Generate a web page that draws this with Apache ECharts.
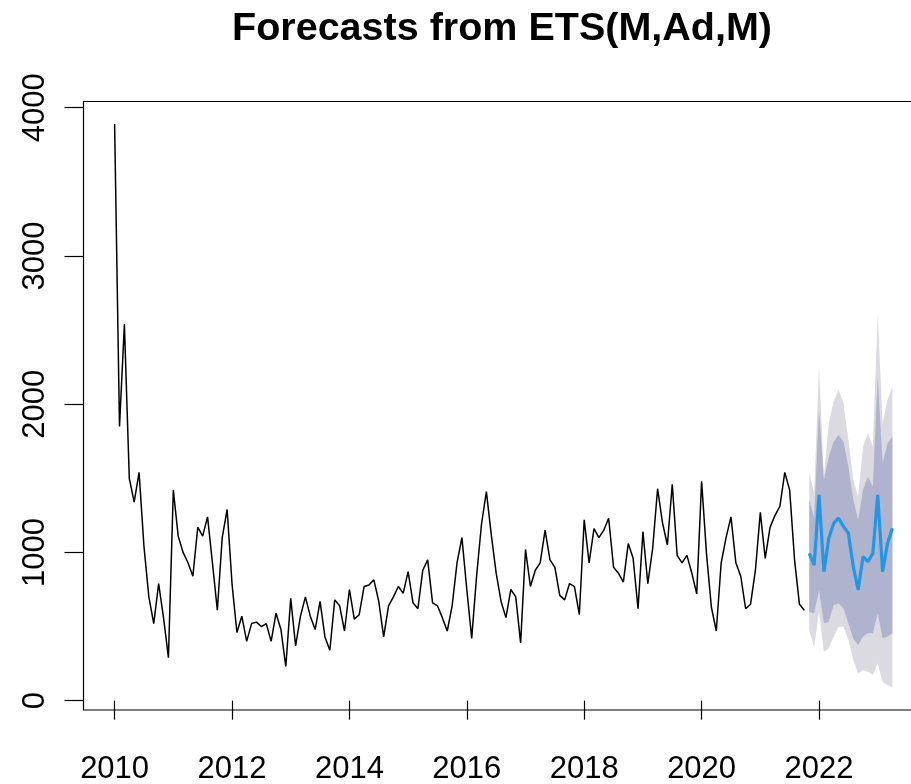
<!DOCTYPE html>
<html>
<head>
<meta charset="utf-8">
<script src="https://cdn.jsdelivr.net/npm/echarts@6/dist/echarts.min.js"></script>
<style>
  html, body { margin: 0; padding: 0; background: #ffffff; }
  #chart { width: 911px; height: 784px; }
</style>
</head>
<body>
<div id="chart"></div>
<script>
// Monthly observations, Jan 2010 .. Oct 2021
const seriesStart = 2010;
const observed = [
  3890, 1850, 2540, 1500, 1340, 1540, 1040, 700, 520, 790, 560, 290,
  1420, 1110, 1000, 930, 840, 1170, 1110, 1240, 930, 610, 1100, 1290,
  790, 460, 570, 400, 520, 530, 500, 520, 400, 590, 480, 230,
  690, 370, 570, 700, 570, 480, 670, 430, 340, 680, 640, 470,
  750, 550, 580, 770, 780, 815, 670, 430, 640, 700, 770, 725,
  870, 660, 620, 880, 950, 660, 640, 560, 470, 640, 930, 1100,
  750, 420, 840, 1190, 1410, 1120, 860, 670, 560, 750, 700, 390,
  1020, 770, 880, 930, 1150, 950, 900, 710, 680, 790, 770, 580,
  1220, 930, 1160, 1100, 1150, 1230, 900, 860, 800, 1060, 960, 620,
  1140, 790, 1030, 1430, 1200, 1050, 1460, 980, 930, 980, 860, 720,
  1480, 990, 630, 470, 930, 1100, 1240, 930, 840, 620, 650, 880,
  1270, 960, 1170, 1250, 1310, 1540, 1420, 950, 650, 610
];

// 18-month forecast, Nov 2021 .. Apr 2023
const forecastStart = 2021 + 10 / 12;
const pointForecast = [994, 915, 1388, 870, 1095, 1197, 1231, 1175, 1130, 904, 747, 972, 938, 994, 1388, 870, 1061, 1163];
const lower80 = [600, 589, 747, 522, 533, 645, 656, 623, 522, 420, 375, 432, 454, 454, 589, 420, 432, 454];
const upper80 = [1355, 1231, 1962, 1489, 1647, 1748, 1793, 1748, 1579, 1355, 1220, 1422, 1512, 1444, 2187, 1602, 1737, 1782];
const lower95 = [477, 364, 600, 330, 353, 432, 499, 499, 409, 274, 184, 207, 195, 173, 252, 128, 105, 89];
const upper95 = [1534, 1400, 2254, 1512, 1872, 2018, 2097, 2007, 1759, 1489, 1377, 1714, 1804, 1714, 2603, 1872, 2029, 2119];

const yearTicks = [2010, 2012, 2014, 2016, 2018, 2020, 2022];
const valueTicks = [0, 1000, 2000, 3000, 4000];

const obsData = observed.map((v, i) => [seriesStart + i / 12, v]);
const fcTime = pointForecast.map((_, j) => forecastStart + j / 12);
const pair = (arr) => arr.map((v, j) => [fcTime[j], v]);

// Prediction interval drawn as one filled polygon: upper edge forward, lower edge back.
function bandSeries(lo, hi, color) {
  return {
    type: 'custom',
    silent: true,
    data: [[fcTime[0], lo[0]]],
    encode: { x: 0, y: 1 },
    renderItem: function (params, api) {
      const pts = [];
      for (let j = 0; j < hi.length; j++) pts.push(api.coord([fcTime[j], hi[j]]));
      for (let j = lo.length - 1; j >= 0; j--) pts.push(api.coord([fcTime[j], lo[j]]));
      return { type: 'polygon', shape: { points: pts }, style: { fill: color, stroke: null } };
    }
  };
}

const axisFont = { fontFamily: 'Liberation Sans, Arial, sans-serif', fontSize: 31, color: '#000', formatter: (v) => String(v) };

const chart = echarts.init(document.getElementById('chart'), null, { renderer: 'canvas' });
chart.setOption({
  animation: false,
  backgroundColor: '#ffffff',
  title: {
    text: 'Forecasts from ETS(M,Ad,M)',
    left: 502,
    top: 9,
    padding: 0,
    textAlign: 'center',
    textStyle: { fontFamily: 'Liberation Sans, Arial, sans-serif', fontWeight: 'bold', fontSize: 39.5, color: '#000' }
  },
  grid: {
    left: 83.5, top: 101.5, width: 840, height: 608.5,
    show: true, borderColor: '#000', borderWidth: 1.2, backgroundColor: 'transparent',
    containLabel: false, outerBoundsMode: 'none'
  },
  xAxis: {
    type: 'value', min: 2009.47, max: 2023.78,
    axisLine: { show: false },
    splitLine: { show: false },
    axisTick: { show: true, customValues: yearTicks, length: 19, lineStyle: { color: '#000', width: 1.2 } },
    axisLabel: Object.assign({ customValues: yearTicks, margin: 44 }, axisFont)
  },
  yAxis: {
    type: 'value', min: -63, max: 4042,
    axisLine: { show: false },
    splitLine: { show: false },
    axisTick: { show: true, customValues: valueTicks, length: 19, lineStyle: { color: '#000', width: 1.2 } },
    axisLabel: Object.assign({ customValues: valueTicks, rotate: 90, margin: 33 }, axisFont)
  },
  series: [
    bandSeries(lower95, upper95, '#DADAE0'),
    bandSeries(lower80, upper80, '#AFB3CD'),
    { type: 'line', data: obsData, symbol: 'none', lineStyle: { color: '#000', width: 1.5 } },
    { type: 'line', data: pair(pointForecast), symbol: 'none', lineStyle: { color: '#2297E6', width: 3.2 } }
  ]
});
</script>
</body>
</html>
